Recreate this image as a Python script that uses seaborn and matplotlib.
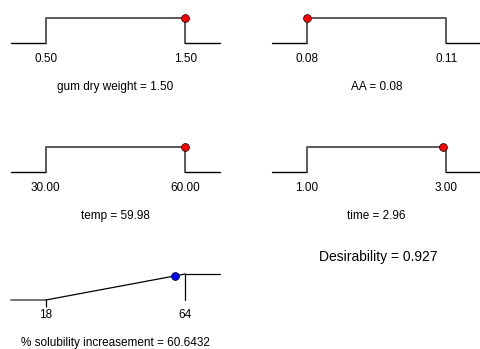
import numpy as np
import pandas as pd
import matplotlib
matplotlib.use('Agg')
import matplotlib.pyplot as plt
import seaborn as sns

sns.set_style('white')
plt.rcParams['font.family'] = ['Liberation Sans', 'DejaVu Sans']
plt.rcParams['text.color'] = 'black'
plt.rcParams['xtick.color'] = 'black'
plt.rcParams['axes.labelcolor'] = 'black'

# factor settings (low, high, optimum)
factor_names = ['gum dry weight', 'AA', 'temp', 'time']
factor_low = [0.50, 0.08, 30.00, 1.00]
factor_high = [1.50, 0.11, 60.00, 3.00]
factor_value = [1.50, 0.08, 59.98, 2.96]

# response (maximise)
resp_name = '% solubility increasement'
resp_low = 18
resp_high = 64
resp_value = 60.6432
desirability = 0.927

W, H = 481, 349
fig = plt.figure(figsize=(W / 100, H / 100), dpi=100)


def px_axes(x0, x1, ytop, ybot):
    return fig.add_axes([x0 / W, 1 - ybot / H, (x1 - x0) / W, (ybot - ytop) / H])


def style(ax, lo, hi, pad):
    ax.set_xlim(lo - pad, hi + pad)
    ax.set_ylim(0, 1)
    ax.set_yticks([])
    sns.despine(ax=ax, left=True, bottom=True)
    for ln in ax.lines:
        ln.set_clip_on(False)
    for c in ax.collections:
        c.set_clip_on(False)


# panel positions in pixels: (x0, x1, ytop, ybottom)
boxes = [(11, 220, 18, 43), (272, 481, 18, 43),
         (11, 220, 147, 172), (272, 481, 147, 172)]

for name, lo, hi, val, (x0, x1, yt, yb) in zip(factor_names, factor_low,
                                                factor_high, factor_value, boxes):
    ax = px_axes(x0, x1, yt, yb)
    pad = 0.25 * (hi - lo)
    prof = pd.DataFrame({'x': [lo - pad, lo, lo, hi, hi, hi + pad],
                         'd': [0, 0, 1, 1, 0, 0]})
    sns.lineplot(data=prof.iloc[:2], x='x', y='d', sort=False, estimator=None,
                 color='black', lw=1, ax=ax)
    sns.lineplot(data=prof.iloc[1:5], x='x', y='d', sort=False, estimator=None,
                 color='#5a5a5a', lw=1.4, ax=ax)
    sns.lineplot(data=prof.iloc[4:], x='x', y='d', sort=False, estimator=None,
                 color='black', lw=1, ax=ax)
    d_val = 1.0 if lo <= val <= hi else 0.0
    sns.scatterplot(x=[val], y=[d_val], color='red', edgecolor='black',
                    linewidth=0.5, s=32, ax=ax, zorder=5)
    style(ax, lo, hi, pad)
    ax.set_xticks([lo, hi])
    ax.set_xticklabels(['{:.2f}'.format(lo), '{:.2f}'.format(hi)])
    ax.tick_params(axis='x', length=0, pad=7.5, labelsize=8.5)
    ax.set_xlabel('{} = {:.2f}'.format(name, val), fontsize=8.5, labelpad=11)
    ax.set_ylabel('')

# response panel
ax = px_axes(11, 220, 274, 300)
pad = 0.25 * (resp_high - resp_low)
d_resp = (resp_value - resp_low) / (resp_high - resp_low)
sns.lineplot(x=[resp_low - pad, resp_low], y=[0, 0], color='#6a6a6a', lw=1.3,
             ax=ax)
sns.lineplot(x=[resp_low, resp_high], y=[0, 1], color='black', lw=0.9, ax=ax)
sns.lineplot(x=[resp_high, resp_high + pad], y=[1, 1], color='black', lw=0.9,
             ax=ax)
sns.lineplot(x=[resp_high, resp_high], y=[0, 1], color='black', lw=0.9,
             estimator=None, sort=False, ax=ax)
ax.vlines(resp_low, -0.27, 0, color='black', lw=0.9, clip_on=False)
sns.scatterplot(x=[resp_value], y=[d_resp], color='blue', edgecolor='black',
                linewidth=0.5, s=32, ax=ax, zorder=5)
style(ax, resp_low, resp_high, pad)
ax.set_xticks([resp_low, resp_high])
ax.set_xticklabels([str(resp_low), str(resp_high)])
ax.tick_params(axis='x', length=0, pad=6.5, labelsize=8.5)
ax.set_xlabel('{} = {}'.format(resp_name, resp_value), fontsize=8.5,
              labelpad=11.5)
ax.set_ylabel('')

fig.text(378 / W, 1 - 257 / H, 'Desirability = {}'.format(desirability),
         fontsize=10, ha='center', va='center')

fig.savefig('out.png', dpi=100)
